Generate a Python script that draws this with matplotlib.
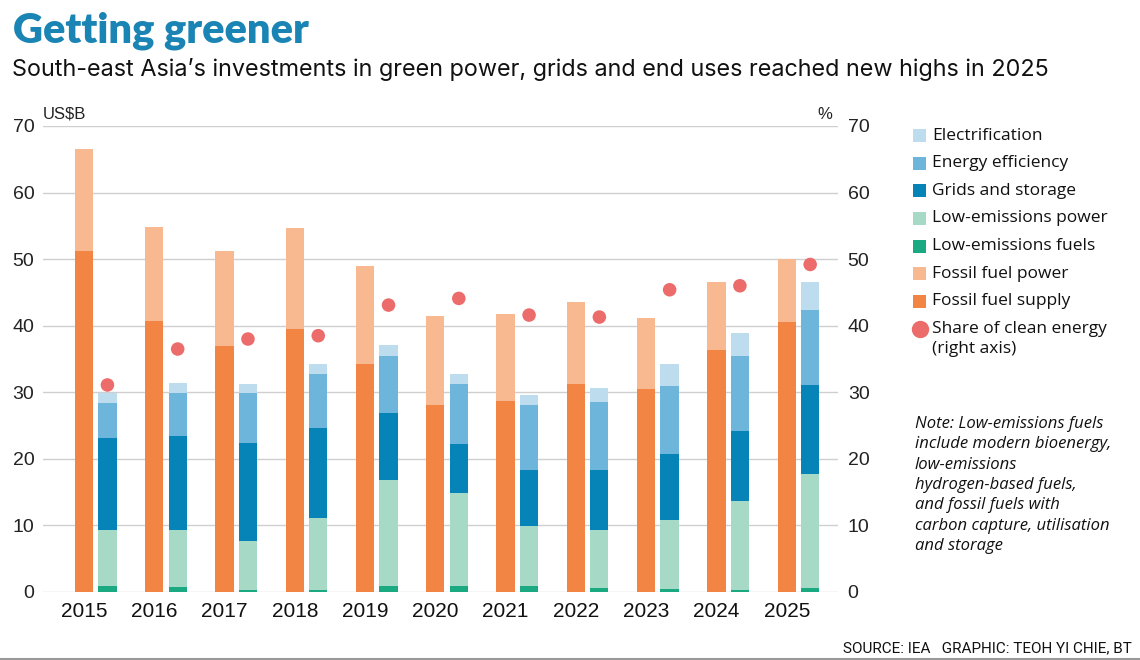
import numpy as np
import matplotlib.pyplot as plt
from matplotlib.patches import Rectangle
from matplotlib.lines import Line2D

# data (US$B)
years = ["2015", "2016", "2017", "2018", "2019", "2020", "2021", "2022", "2023", "2024", "2025"]
fossil_supply = [51.25, 40.7, 36.9, 39.5, 34.3, 28.1, 28.65, 31.25, 30.45, 36.4, 40.5]
fossil_power = [15.25, 14.2, 14.25, 15.15, 14.65, 13.3, 13.05, 12.35, 10.75, 10.1, 9.55]
low_em_fuels = [0.95, 0.8, 0.25, 0.35, 0.85, 0.95, 0.85, 0.65, 0.45, 0.35, 0.55]
low_em_power = [8.3, 8.5, 7.4, 10.75, 15.95, 13.85, 9.1, 8.65, 10.35, 13.35, 17.15]
grids = [13.9, 14.1, 14.7, 13.55, 10.05, 7.5, 8.35, 9.0, 10.0, 10.55, 13.4]
efficiency = [5.3, 6.5, 7.5, 8.15, 8.65, 9.0, 9.8, 10.2, 10.1, 11.15, 11.2]
electrification = [1.4, 1.5, 1.4, 1.4, 1.6, 1.4, 1.55, 2.1, 3.3, 3.5, 4.2]
clean_share = [31.1, 36.5, 38.0, 38.5, 43.1, 44.1, 41.6, 41.3, 45.4, 46.0, 49.2]

c_supply = "#F28444"
c_fpower = "#F8B890"
c_fuels = "#1AA981"
c_lepower = "#A6DAC7"
c_grids = "#0684B8"
c_eff = "#6DB5DB"
c_elec = "#BDDCEE"
c_dot = "#EC6B6B"

W, H = 1140, 660
fig = plt.figure(figsize=(W / 100, H / 100), dpi=100)
ax = fig.add_axes([42.7 / W, 1 - 592 / H, (838 - 42.7) / W, (592 - 126) / H])

x = np.arange(len(years))
bw = 0.26
off = 0.334

# fossil bar
ax.bar(x, fossil_supply, bw, color=c_supply, zorder=2)
ax.bar(x, fossil_power, bw, bottom=fossil_supply, color=c_fpower, zorder=2)

# clean bar
bottom = np.zeros(len(years))
for vals, col in [(low_em_fuels, c_fuels), (low_em_power, c_lepower), (grids, c_grids),
                  (efficiency, c_eff), (electrification, c_elec)]:
    ax.bar(x + off, vals, bw, bottom=bottom, color=col, zorder=2)
    bottom = bottom + np.array(vals)

ax.set_ylim(0, 70)
ax.set_xlim(-0.587, 10.73)
ax.set_yticks(range(0, 71, 10))
ax.set_xticks(x)
ax.set_xticklabels(years)
ax.yaxis.grid(True, color="#cfcfcf", lw=1, zorder=0)
ax.set_axisbelow(True)
for s in ax.spines.values():
    s.set_visible(False)
ax.tick_params(axis="y", length=0, pad=6, labelsize=14, labelcolor="#222222")
ax.tick_params(axis="x", length=0, pad=7, labelsize=15, labelcolor="#111111")
for t in ax.get_xticklabels() + ax.get_yticklabels():
    t.set_family("Liberation Sans")

ax2 = ax.twinx()
ax2.set_ylim(0, 70)
ax2.set_yticks(range(0, 71, 10))
ax2.scatter(x + off, clean_share, s=95, color=c_dot, zorder=3, edgecolors="none")
for s in ax2.spines.values():
    s.set_visible(False)
ax2.tick_params(axis="y", length=0, pad=7, labelsize=14, labelcolor="#222222")
for t in ax2.get_yticklabels():
    t.set_family("Liberation Sans")

# titles
fig.text(13 / W, 1 - 42 / H, "Getting greener", fontsize=30, fontweight="heavy",
         color="#1A84B4", family="Lato")
fig.text(12 / W, 1 - 76 / H,
         "South-east Asia\u2019s investments in green power, grids and end uses reached new highs in 2025",
         fontsize=16.85, color="#111111", family="Inter")
fig.text(43 / W, 1 - 119 / H, "US$B", fontsize=12, color="#222222", family="Liberation Sans")
fig.text(832 / W, 1 - 119 / H, "%", fontsize=12, color="#222222", family="Liberation Sans", ha="right")

# legend
labels = ["Electrification", "Energy efficiency", "Grids and storage", "Low-emissions power",
          "Low-emissions fuels", "Fossil fuel power", "Fossil fuel supply"]
cols = [c_elec, c_eff, c_grids, c_lepower, c_fuels, c_fpower, c_supply]
for i, (lab, col) in enumerate(zip(labels, cols)):
    yc = 135.7 + i * 27.6
    fig.add_artist(Rectangle((913 / W, 1 - (yc + 6.5) / H), 13 / W, 13 / H,
                             transform=fig.transFigure, color=col, lw=0))
    fig.text(932 / W, 1 - yc / H, lab, fontsize=12.5, va="center", color="#111111", family="Open Sans")
yc = 135.7 + 7 * 27.6
fig.add_artist(Line2D([919.5 / W], [1 - yc / H], marker="o", markersize=11.5, color=c_dot,
                      lw=0, transform=fig.transFigure))
fig.text(932 / W, 1 - yc / H, "Share of clean energy", fontsize=12.5, va="center", color="#111111",
         family="Open Sans")
fig.text(932 / W, 1 - (yc + 20) / H, "(right axis)", fontsize=12.5, va="center", color="#111111",
         family="Open Sans")

note = ("Note: Low-emissions fuels\ninclude modern bioenergy,\nlow-emissions\n"
        "hydrogen-based fuels,\nand fossil fuels with\ncarbon capture, utilisation\nand storage")
fig.text(915 / W, 1 - 416 / H, note, fontsize=12, style="italic", va="top", color="#111111",
         family="Open Sans", linespacing=1.36)

fig.text(1132 / W, 1 - 652 / H, "SOURCE: IEA   GRAPHIC: TEOH YI CHIE, BT", fontsize=11,
         ha="right", color="#111111", family="Roboto")
fig.add_artist(Line2D([0, 1], [1 - 659 / H, 1 - 659 / H], color="#999999", lw=1.5,
                      transform=fig.transFigure))

fig.savefig("out.png", dpi=100)
